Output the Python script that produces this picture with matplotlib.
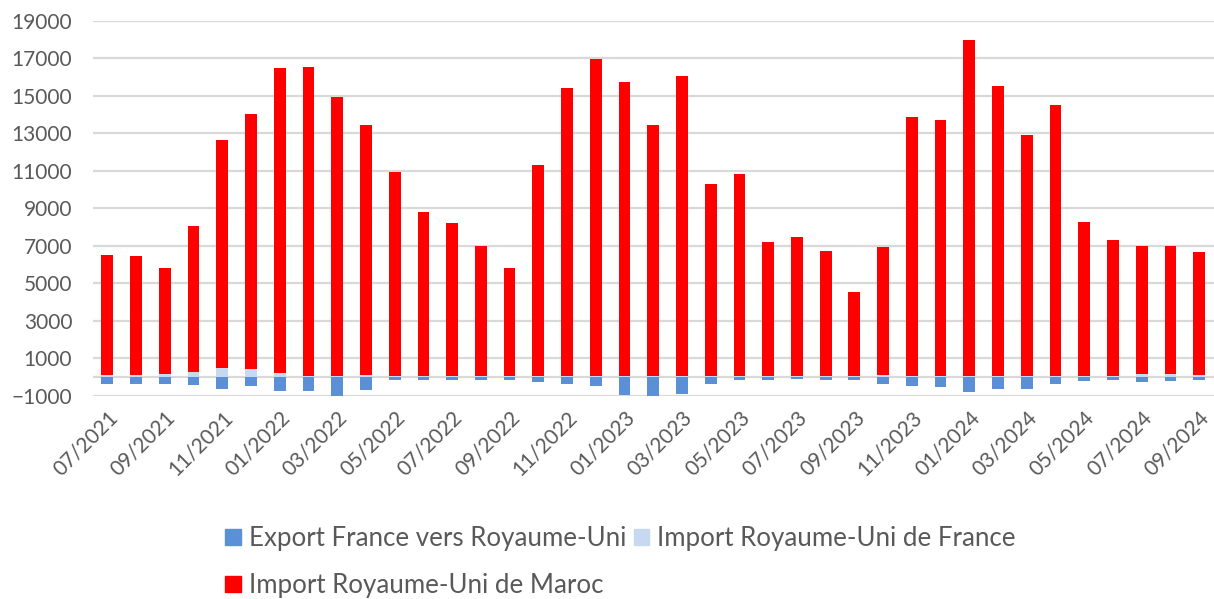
import numpy as np
import matplotlib
matplotlib.use("Agg")
import matplotlib.pyplot as plt
from matplotlib.patches import Patch

# ─── Données mensuelles (tonnes) ──────────────────────────────────────────────

mois = ["07/2021", "08/2021", "09/2021", "10/2021", "11/2021", "12/2021",
        "01/2022", "02/2022", "03/2022", "04/2022", "05/2022", "06/2022",
        "07/2022", "08/2022", "09/2022", "10/2022", "11/2022", "12/2022",
        "01/2023", "02/2023", "03/2023", "04/2023", "05/2023", "06/2023",
        "07/2023", "08/2023", "09/2023", "10/2023", "11/2023", "12/2023",
        "01/2024", "02/2024", "03/2024", "04/2024", "05/2024", "06/2024",
        "07/2024", "08/2024", "09/2024"]

export_fr_ru = [-370, -370, -370, -400, -610, -490, -720, -750, -1020, -690,
                -175, -175, -175, -140, -175, -280, -370, -475, -965, -1035,
                -910, -370, -175, -160, -120, -140, -160, -350, -490, -525,
                -810, -630, -630, -350, -190, -160, -230, -210, -160]

import_ru_fr = [140, 140, 195, 300, 515, 460, 210, 40, 90, 120,
                90, 90, 90, 90, 60, 90, 90, 40, 40, 40,
                40, 60, 90, 60, 60, 60, 60, 120, 40, 40,
                40, 40, 40, 90, 90, 90, 160, 175, 120]

import_ru_ma = [6400, 6310, 5630, 7740, 12120, 13560, 16290, 16500, 14850, 13310,
                10830, 8730, 8110, 6920, 5750, 11210, 15330, 16940, 15680, 13410,
                16000, 10250, 10740, 7130, 7400, 6690, 4510, 6810, 13840, 13680,
                17950, 15490, 12900, 14410, 8200, 7230, 6820, 6820, 6560]

# ─── Styles ───────────────────────────────────────────────────────────────────

BLEU = "#5B8FD6"
BLEU_CLAIR = "#C6D9F0"
ROUGE = "#FF0000"
GRIS_TEXTE = "#595959"
GRIS_GRILLE = "#D9D9D9"

plt.rcParams["font.family"] = ["Lato", "DejaVu Sans"]

fig = plt.figure(figsize=(12.14, 5.99), dpi=100)
ax = fig.add_axes([0.0766, 0.339, 0.923, 0.626])

x = np.arange(len(mois))
largeur = 0.41

ax.bar(x, export_fr_ru, largeur, color=BLEU, zorder=3)
ax.bar(x, import_ru_fr, largeur, color=BLEU_CLAIR, zorder=3)
ax.bar(x, import_ru_ma, largeur, bottom=import_ru_fr, color=ROUGE, zorder=3)

ax.set_xlim(-0.5, len(mois) - 0.5)
ax.set_ylim(-1000, 19000)
ax.set_yticks(np.arange(-1000, 19001, 2000))
ax.yaxis.grid(True, color=GRIS_GRILLE, linewidth=1.6, zorder=0)
ax.axhline(0, color=GRIS_GRILLE, linewidth=1.6, zorder=2)

for s in ax.spines.values():
    s.set_visible(False)

ax.set_xticks(x[::2])
ax.set_xticklabels(mois[::2], rotation=45, ha="right", rotation_mode="anchor")
ax.tick_params(axis="both", length=0, labelsize=15, colors=GRIS_TEXTE)
ax.tick_params(axis="y", pad=15)
ax.tick_params(axis="x", pad=8)

poignees = [Patch(color=BLEU), Patch(color=ROUGE), Patch(color=BLEU_CLAIR)]
libelles = ["Export France vers Royaume-Uni", "Import Royaume-Uni de Maroc",
            "Import Royaume-Uni de France"]
fig.legend(poignees, libelles, ncol=2, loc="lower left",
           bbox_to_anchor=(0.1665, -0.037), frameon=False, fontsize=18.6,
           labelcolor=GRIS_TEXTE, handlelength=0.6, handleheight=0.6,
           handletextpad=0.3, columnspacing=0.3, labelspacing=0.85)

fig.savefig("out.png", dpi=100)
